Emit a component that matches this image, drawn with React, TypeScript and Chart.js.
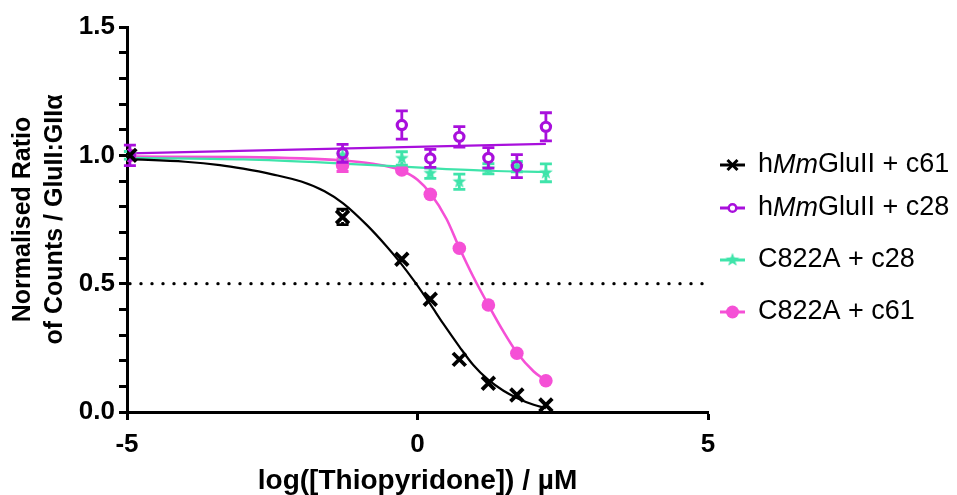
import React, { useEffect, useRef } from 'react';
import { Chart, registerables } from 'chart.js';

Chart.register(...registerables);

const FONT = '"Liberation Sans", Arial, Helvetica, sans-serif';

const BLACK = '#000000';
const PURPLE = '#A80FDC';
const GREEN = '#3FE4AA';
const PINK = '#F550D6';

// log concentrations of the measured points
const xConc = [-4.95, -1.29, -0.27, 0.22, 0.72, 1.22, 1.71, 2.21];

// measured means and errors
const wtC61 = [1.0, 0.76, 0.595, 0.439, 0.205, 0.112, 0.066, 0.027];
const wtC61Err = [0, 0.03, 0, 0, 0, 0, 0, 0];
const wtC28 = [1.0, 1.008, 1.118, 0.988, 1.072, 0.99, 0.958, 1.111];
const wtC28Err = [0.04, 0.035, 0.055, 0.035, 0.04, 0.04, 0.045, 0.055];
const mutC28 = [1.0, 1.0, 0.988, 0.93, 0.897, 0.948, 0.956, 0.932];
const mutC28Err = [0.015, 0, 0.026, 0.02, 0.03, 0.02, 0.02, 0.035];
const mutC61 = [1.0, 0.962, 0.943, 0.848, 0.638, 0.417, 0.229, 0.122];
const mutC61Err = [0, 0.025, 0, 0, 0, 0, 0, 0];

// fitted curves
const wtC61FitX = [-4.95, -4.0, -3.4, -3.0, -2.5, -2.0, -1.6, -1.28, -0.87, -0.53, -0.3, -0.04, 0.22, 0.44, 0.72, 0.96, 1.22, 1.48, 1.71, 2.0, 2.21];
const wtC61FitY = [0.985, 0.975, 0.962, 0.948, 0.926, 0.898, 0.86, 0.813, 0.728, 0.645, 0.583, 0.505, 0.42, 0.345, 0.255, 0.183, 0.125, 0.083, 0.055, 0.028, 0.015];
const wtC28FitX = [-4.95, 2.21];
const wtC28FitY = [1.008, 1.045];
const mutC28FitX = [-4.95, -3, -1.3, 0.22, 1.22, 2.21];
const mutC28FitY = [0.99, 0.984, 0.968, 0.95, 0.94, 0.935];
const mutC61FitX = [-4.95, -3, -2, -1.3, -0.8, -0.3, 0.0, 0.22, 0.5, 0.72, 0.96, 1.22, 1.48, 1.71, 2.0, 2.21];
const mutC61FitY = [0.995, 0.993, 0.988, 0.98, 0.968, 0.943, 0.905, 0.852, 0.752, 0.64, 0.527, 0.417, 0.313, 0.232, 0.158, 0.122];

// half-maximum reference line
const halfX = [-5, 5];
const halfY = [0.5, 0.5];

const xTicks = [-5, 0, 5];
const yLabelled = [0, 0.5, 1.0, 1.5];

const legendLabels = [
  [['h', false], ['Mm', true], ['GluII + c61', false]],
  [['h', false], ['Mm', true], ['GluII + c28', false]],
  [['C822A + c28', false]],
  [['C822A + c61', false]],
];

const pts = (xs: number[], ys: number[]) => xs.map((x, i) => ({ x, y: ys[i] }));

function makeStar(color: string, size: number, outer: number, inner: number) {
  const c = document.createElement('canvas');
  c.width = size;
  c.height = size;
  const g = c.getContext('2d')!;
  g.fillStyle = color;
  g.beginPath();
  for (let i = 0; i < 10; i++) {
    const r = i % 2 === 0 ? outer : inner;
    const a = -Math.PI / 2 + (i * Math.PI) / 5;
    const px = size / 2 + r * Math.cos(a);
    const py = size / 2 + r * Math.sin(a);
    if (i === 0) g.moveTo(px, py);
    else g.lineTo(px, py);
  }
  g.closePath();
  g.fill();
  return c;
}

export default function App() {
  const ref = useRef<HTMLCanvasElement | null>(null);

  useEffect(() => {
    const canvas = ref.current;
    if (!canvas) return;
    const star = makeStar(GREEN, 16, 7.2, 3.0);

    const errorBarPlugin = {
      id: 'errorBars',
      beforeDatasetDraw(chart: any, args: any) {
        const ds = chart.data.datasets[args.index];
        if (!ds.errorBars) return;
        const ctx = chart.ctx;
        const ys = chart.scales.y;
        const gap = ds.errGap || 0;
        ctx.save();
        ctx.strokeStyle = ds.errColor || ds.borderColor;
        ctx.lineWidth = 2.8;
        ctx.lineCap = 'butt';
        args.meta.data.forEach((pt: any, i: number) => {
          const e = ds.errorBars[i];
          if (!e) return;
          const v = ds.data[i].y;
          const top = ys.getPixelForValue(v + e);
          const bot = ys.getPixelForValue(v - e);
          const cx = pt.x;
          const cy = pt.y;
          const hw = 6;
          ctx.beginPath();
          if (cy - top > gap) {
            ctx.moveTo(cx, cy - gap);
            ctx.lineTo(cx, top);
          }
          if (bot - cy > gap) {
            ctx.moveTo(cx, cy + gap);
            ctx.lineTo(cx, bot);
          }
          ctx.moveTo(cx - hw, top);
          ctx.lineTo(cx + hw, top);
          ctx.moveTo(cx - hw, bot);
          ctx.lineTo(cx + hw, bot);
          ctx.stroke();
        });
        ctx.restore();
      },
    };

    const legendPlugin = {
      id: 'customLegend',
      afterDraw(chart: any) {
        const ctx = chart.ctx;
        const rows = [165, 208, 260, 312];
        const colors = [BLACK, PURPLE, GREEN, PINK];
        const x0 = 720;
        const x1 = 745;
        const mx = (x0 + x1) / 2;
        const tx = 758;
        ctx.save();
        rows.forEach((y, i) => {
          ctx.strokeStyle = colors[i];
          ctx.fillStyle = colors[i];
          ctx.lineWidth = 3;
          ctx.beginPath();
          ctx.moveTo(x0, y);
          ctx.lineTo(x1, y);
          ctx.stroke();
          if (i === 0) {
            ctx.lineWidth = 3;
            ctx.beginPath();
            ctx.moveTo(mx - 5, y - 5);
            ctx.lineTo(mx + 5, y + 5);
            ctx.moveTo(mx + 5, y - 5);
            ctx.lineTo(mx - 5, y + 5);
            ctx.stroke();
          } else if (i === 1) {
            ctx.lineWidth = 2.5;
            ctx.fillStyle = '#ffffff';
            ctx.beginPath();
            ctx.arc(mx, y, 3.8, 0, Math.PI * 2);
            ctx.fill();
            ctx.stroke();
          } else if (i === 2) {
            ctx.drawImage(star, mx - star.width / 2, y - star.height / 2);
          } else {
            ctx.beginPath();
            ctx.arc(mx, y, 6.5, 0, Math.PI * 2);
            ctx.fill();
          }
          ctx.fillStyle = '#000000';
          ctx.textBaseline = 'middle';
          ctx.textAlign = 'left';
          let x = tx;
          legendLabels[i].forEach(([txt, italic]) => {
            ctx.font = `${italic ? 'italic ' : ''}27px ${FONT}`;
            ctx.fillText(txt as string, x, y);
            x += ctx.measureText(txt as string).width;
          });
        });
        ctx.restore();
      },
    };

    const tickFont = { family: FONT, size: 26, weight: 'bold' as const };

    const chart = new Chart(canvas, {
      type: 'scatter',
      data: {
        datasets: [
          {
            label: 'hMmGluII + c61',
            data: pts(xConc, wtC61),
            pointStyle: 'crossRot',
            pointRadius: 9,
            pointBorderWidth: 3.8,
            borderColor: BLACK,
            backgroundColor: BLACK,
            order: 0,
            errorBars: wtC61Err,
            errGap: 5,
          } as any,
          {
            label: 'hMmGluII + c28',
            data: pts(xConc, wtC28),
            pointStyle: 'circle',
            pointRadius: 4.6,
            pointBorderWidth: 3.2,
            borderColor: PURPLE,
            backgroundColor: 'rgba(0,0,0,0)',
            order: 1,
            errorBars: wtC28Err,
            errGap: 5.5,
            errColor: PURPLE,
          } as any,
          {
            label: 'C822A + c28',
            data: pts(xConc, mutC28),
            pointStyle: star,
            pointRadius: 7,
            borderColor: GREEN,
            backgroundColor: GREEN,
            order: 2,
            errorBars: mutC28Err,
            errGap: 3,
          } as any,
          {
            label: 'C822A + c61',
            data: pts(xConc, mutC61),
            pointStyle: 'circle',
            pointRadius: 6.8,
            pointBorderWidth: 0,
            borderColor: PINK,
            backgroundColor: PINK,
            order: 3,
            errorBars: mutC61Err,
            errGap: 0,
          } as any,
          {
            type: 'line',
            label: 'fit c61',
            data: pts(wtC61FitX, wtC61FitY),
            showLine: true,
            pointRadius: 0,
            borderColor: BLACK,
            borderWidth: 2.2,
            cubicInterpolationMode: 'monotone',
            order: 4,
          } as any,
          {
            type: 'line',
            label: 'fit c28',
            data: pts(wtC28FitX, wtC28FitY),
            showLine: true,
            pointRadius: 0,
            borderColor: PURPLE,
            borderWidth: 2.2,
            order: 5,
          } as any,
          {
            type: 'line',
            label: 'fit C822A c28',
            data: pts(mutC28FitX, mutC28FitY),
            showLine: true,
            pointRadius: 0,
            borderColor: GREEN,
            borderWidth: 2.2,
            cubicInterpolationMode: 'monotone',
            order: 6,
          } as any,
          {
            type: 'line',
            label: 'fit C822A c61',
            data: pts(mutC61FitX, mutC61FitY),
            showLine: true,
            pointRadius: 0,
            borderColor: PINK,
            borderWidth: 2.6,
            cubicInterpolationMode: 'monotone',
            order: 7,
          } as any,
          {
            type: 'line',
            label: 'half',
            data: pts(halfX, halfY),
            showLine: true,
            pointRadius: 0,
            borderColor: BLACK,
            borderWidth: 3.4,
            borderDash: [0, 11],
            borderDashOffset: -3,
            borderCapStyle: 'round',
            order: 8,
          } as any,
        ],
      },
      options: {
        responsive: false,
        animation: false,
        layout: { padding: { left: 0, right: 249, top: 27, bottom: 0 } },
        plugins: {
          legend: { display: false },
          tooltip: { enabled: false },
        },
        scales: {
          x: {
            type: 'linear',
            min: -5,
            max: 5,
            afterFit: (s: any) => {
              s.height = 83;
            },
            afterBuildTicks: (s: any) => {
              s.ticks = xTicks.map((v) => ({ value: v }));
            },
            border: { display: true, color: BLACK, width: 3 },
            grid: {
              display: true,
              drawOnChartArea: false,
              drawTicks: true,
              tickLength: 8,
              tickWidth: 3,
              tickColor: BLACK,
            },
            ticks: {
              color: BLACK,
              font: tickFont,
              padding: 9,
              autoSkip: false,
              maxRotation: 0,
            },
            title: {
              display: true,
              text: 'log([Thiopyridone]) / µM',
              color: BLACK,
              font: { family: FONT, size: 28, weight: 'bold', lineHeight: 1.0 },
              padding: { top: 0, bottom: 0 },
            },
          },
          y: {
            type: 'linear',
            min: 0,
            max: 1.5,
            afterFit: (s: any) => {
              s.width = 127;
            },
            border: { display: true, color: BLACK, width: 3 },
            grid: {
              display: true,
              drawOnChartArea: false,
              drawTicks: true,
              tickLength: 8,
              tickWidth: 3,
              tickColor: BLACK,
            },
            ticks: {
              stepSize: 0.1,
              autoSkip: false,
              color: BLACK,
              font: tickFont,
              padding: 4,
              callback: (v: any) => {
                const n = Number(v);
                return yLabelled.some((l) => Math.abs(l - n) < 1e-6) ? n.toFixed(1) : '';
              },
            },
            title: {
              display: true,
              text: ['Normalised Ratio', 'of Counts / GluII:GIIα'],
              color: BLACK,
              font: { family: FONT, size: 25, weight: 'bold', lineHeight: 1.28 },
              padding: { top: 7, bottom: 0 },
            },
          },
        },
      } as any,
      plugins: [errorBarPlugin, legendPlugin],
    });

    return () => {
      chart.destroy();
    };
  }, []);

  return (
    <div style={{ position: 'fixed', left: 0, top: 0, width: 957, height: 495, background: '#ffffff' }}>
      <canvas ref={ref} width={957} height={495} style={{ width: 957, height: 495, display: 'block' }} />
    </div>
  );
}
